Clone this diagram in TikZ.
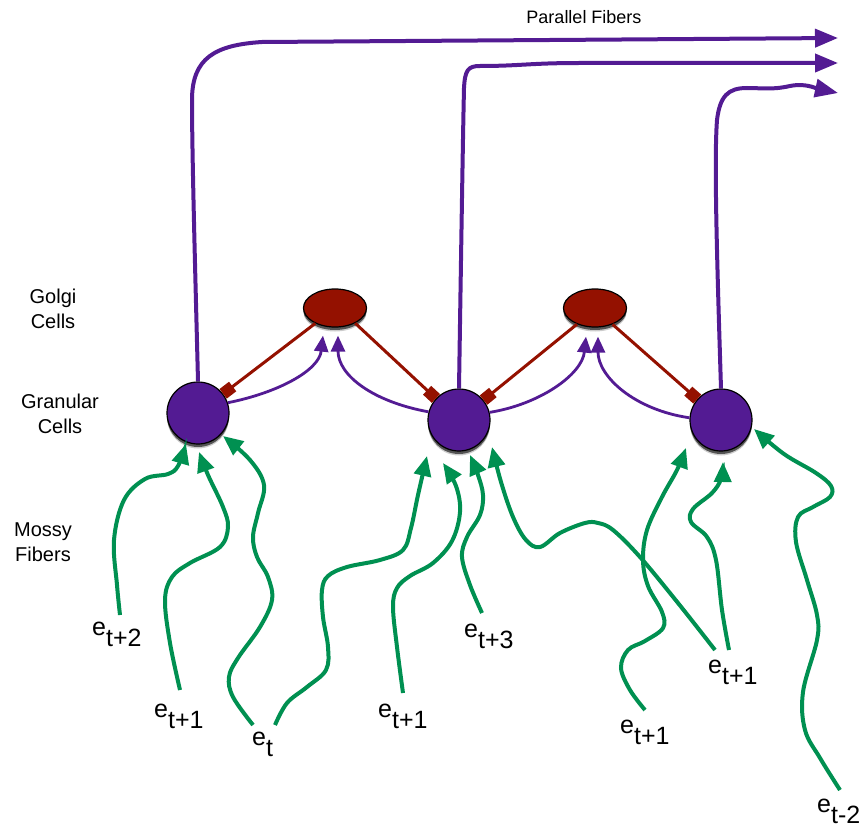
\documentclass[tikz,border=0pt]{standalone}
\usepackage{fontspec}
\setmainfont{Liberation Sans}
\usetikzlibrary{arrows.meta,shapes.geometric,shadows,calc}
\definecolor{pfc}{RGB}{83,27,147}
\definecolor{golc}{RGB}{148,17,0}
\definecolor{mfc}{RGB}{0,144,81}
\begin{document}
\begin{tikzpicture}[x=1pt,y=-1pt,
  shadowed/.style={drop shadow={shadow xshift=0pt,shadow yshift=-4.5pt,fill=black,opacity=.2},
                   drop shadow={shadow xshift=0pt,shadow yshift=-3pt,fill=black!75,opacity=.85}},
  granule/.style={circle,draw=black,line width=1.2pt,fill=pfc,minimum size=62pt,inner sep=0pt,shadowed},
  golgi/.style={ellipse,draw=black,line width=1.2pt,fill=golc,minimum width=63pt,minimum height=38pt,inner sep=0pt,shadowed},
  lbl/.style={font=\fontsize{20}{25}\selectfont,align=center,inner sep=0pt},
  ttl/.style={font=\fontsize{18}{22}\selectfont,inner sep=0pt},
  elab/.style={font=\fontsize{25}{28}\selectfont,anchor=base west,inner sep=0pt},
  pfiber/.style={draw=pfc,line width=4pt,-{Triangle[length=23pt,width=18pt]}},
  exc/.style={draw=pfc,line width=2.8pt,-{Triangle[length=16pt,width=14pt]}},
  inh/.style={draw=golc,line width=3pt,-{Square[length=12pt,width=12pt]}},
  mossy/.style={draw=mfc,line width=4pt,-{Triangle[length=20pt,width=17pt]}},
]
\useasboundingbox (0,0) rectangle (860,829);

% side labels
\node[lbl] (tgolgi) at (53,309) {Golgi\\Cells};
\node[lbl] (tgran) at (60,414) {Granular\\Cells};
\node[lbl] (tmossy) at (43,542) {Mossy\\Fibers};
\node[ttl] (tpar) at (584,17) {Parallel Fibers};

% cells
\node[golgi] (g1) at (335,308) {};
\node[golgi] (g2) at (595,308) {};
\node[granule] (c1) at (198,413) {};
\node[granule] (c2) at (459,420) {};
\node[granule] (c3) at (721,420) {};

% parallel fibers ends
\coordinate (pf1) at (838,38);
\coordinate (pf2) at (838,63);
\coordinate (pf3) at (838,93);

\draw[pfiber] (c1.north) .. controls (196,300) and (192,160) .. (192,100)
  .. controls (192,58) and (215,45) .. (262,42) -- (pf1);
\draw[pfiber] (c2.north) .. controls (461,260) and (463,130) .. (464,88)
  .. controls (465,70) and (468,66) .. (480,66)
  .. controls (520,66) and (530,63) .. (580,63) -- (pf2);
\draw[pfiber] (c3.north) .. controls (717,260) and (714,160) .. (717,120)
  .. controls (720,96) and (728,88) .. (747,88)
  .. controls (762,88) and (772,90) .. (790,86)
  .. controls (805,83) and (815,88) .. (pf3);

% inhibitory golgi -> granule
\draw[inh] (g1.218) -- (c1);
\draw[inh] (g1.323) -- (c2);
\draw[inh] (g2.222) -- (c2);
\draw[inh] (g2.317) -- (c3);

% excitatory granule -> golgi
\draw[exc] (c1.19) .. controls +(50,-10) and +(-4,35) .. ($(g1.south)+(-12,8)$);
\draw[exc] (c2.165) .. controls +(-55,-10) and +(0,40) .. ($(g1.south)+(3,8)$);
\draw[exc] (c2.14) .. controls +(50,-8) and +(-4,38) .. ($(g2.south)+(-9,9)$);
\draw[exc] (c3.176) .. controls +(-55,-8) and +(0,40) .. ($(g2.south)+(3,9)$);

% labels of mossy fibers
\node[elab] (l1) at (92,635) {e\raisebox{-11.5pt}{t+2}};
\node[elab] (l2) at (154,717) {e\raisebox{-11.5pt}{t+1}};
\node[elab] (l3) at (252,745) {e\raisebox{-11.5pt}{t}};
\node[elab] (l4) at (378,717) {e\raisebox{-11.5pt}{t+1}};
\node[elab] (l5) at (464,637) {e\raisebox{-11.5pt}{t+3}};
\node[elab] (l6) at (708,673) {e\raisebox{-11.5pt}{t+1}};
\node[elab] (l7) at (620,733) {e\raisebox{-11.5pt}{t+1}};
\node[elab] (l8) at (817,812) {e\raisebox{-11.5pt}{t-2}};

% fiber start points
\coordinate (s1) at (120,615);
\coordinate (s2) at (180,690);
\coordinate (s3) at (253,725);
\coordinate (s4) at (275,725);
\coordinate (s5) at (403,693);
\coordinate (s6) at (482,613);
\coordinate (s7) at (715,650);
\coordinate (s8) at (729,650);
\coordinate (s9) at (645,710);
\coordinate (s10) at (840,790);

\draw[mossy] plot[smooth,tension=0.6] coordinates {(s1) (117,585) (114,540) (124,500) (145,479) (168,474) (178,466) ($(c1)+(-12,31)$)};
\draw[mossy] plot[smooth,tension=0.6] coordinates {(s2) (170,643) (165,600) (172,577) (190,563) (220,547) (228,527) (223,507) (208,475) ($(c1)+(1,39)$)};
\draw[mossy] plot[smooth,tension=0.6] coordinates {(s3) (233,697) (229,677) (238,658) (260,627) (272,600) (268,577) (257,557) (253,537) (258,513) (264,485) (250,460) ($(c1)+(25,23)$)};
\draw[mossy] plot[smooth,tension=0.6] coordinates {(s4) (287,703) (307,687) (326,670) (328,647) (323,617) (322,590) (328,576) (347,567) (380,560) (403,550) (411,528) (418,495) ($(c2)+(-32,36)$)};
\draw[mossy] plot[smooth,tension=0.6] coordinates {(s5) (397,647) (393,607) (397,588) (410,576) (433,563) (452,541) (460,512) (456,486) ($(c2)+(-16,43)$)};
\draw[mossy] plot[smooth,tension=0.6] coordinates {(s6) (470,585) (462,557) (467,537) (480,515) (483,495) (478,475) ($(c2)+(11,35)$)};
\draw[mossy] plot[smooth,tension=0.6] coordinates {(s7) (678,603) (640,557) (613,530) (598,523) (585,523) (560,533) (540,547) (526,540) (513,517) (501,482) ($(c2)+(33,27)$)};
\draw[mossy] plot[smooth,tension=0.6] coordinates {(s8) (722,610) (716,560) (707,537) (691,522) (693,509) (712,493) (721,479) ($(c3)+(2,42)$)};
\draw[mossy] plot[smooth,tension=0.6] coordinates {(s9) (630,690) (621,668) (628,650) (645,641) (663,628) (662,612) (648,586) (643,560) (647,530) (662,497) (677,470) ($(c3)+(-35,28)$)};
\draw[mossy] plot[smooth,tension=0.6] coordinates {(s10) (820,758) (805,730) (803,692) (817,640) (817,615) (807,580) (796,542) (798,517) (813,507) (830,497) (831,486) (816,473) (784,454) ($(c3)+(33,9)$)};
\end{tikzpicture}
\end{document}
